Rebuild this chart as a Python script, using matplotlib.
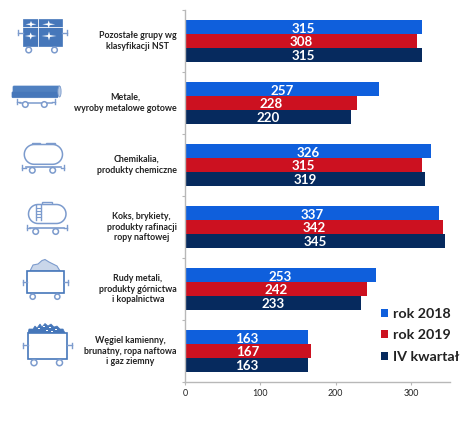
#!/usr/bin/env python3
"""Przewozy towarowe wg grup NST - wykres slupkowy z ikonami wagonow."""

import matplotlib
matplotlib.use("Agg")
import matplotlib.pyplot as plt
import numpy as np
from matplotlib.patches import Circle, Polygon, Rectangle, Ellipse, FancyBboxPatch

plt.rcParams["font.family"] = ["Lato", "DejaVu Sans"]

W, H = 474, 422

categories = [
    "Pozostałe grupy wg\nklasyfikacji NST",
    "Metale,\nwyroby metalowe gotowe",
    "Chemikalia,\nprodukty chemiczne",
    "Koks, brykiety,\nprodukty rafinacji\nropy naftowej",
    "Rudy metali,\nprodukty górnictwa\ni kopalnictwa",
    "Węgiel kamienny,\nbrunatny, ropa naftowa\ni gaz ziemny",
]
rok_2018 = [315, 257, 326, 337, 253, 163]
rok_2019 = [308, 228, 315, 342, 242, 167]
iv_kwartal = [315, 220, 319, 345, 233, 163]
series_labels = ["rok 2018", "rok 2019", "IV kwartał"]
x_ticks = [0, 100, 200, 300]

BLUE = "#0f5fdc"
RED = "#cc1120"
NAVY = "#062a5e"
ICON = "#7c9bcd"
ICON_DARK = "#4677ba"
ICON_FILL = "#c9d6ea"


def wheels(ax, xs, y, r=3.0):
    for x in xs:
        ax.add_patch(Circle((x, y), r, fc="white", ec=ICON, lw=1.1, zorder=3))


def buffers(ax, x0, x1, y, w=3.5):
    ax.plot([x0 - w, x0], [y, y], color=ICON, lw=1.0)
    ax.plot([x1, x1 + w], [y, y], color=ICON, lw=1.0)
    for x in (x0 - w, x1 + w):
        ax.plot([x, x], [y - 2.5, y + 2.5], color=ICON, lw=1.0)


def star(ax, x, y, s):
    pts = [(x - s, y), (x - 1, y - 0.9), (x, y - s * 0.6), (x + 1, y - 0.9),
           (x + s, y), (x + 1, y + 0.9), (x, y + s * 0.6), (x - 1, y + 0.9)]
    ax.add_patch(Polygon(pts, fc="white", ec="none"))


def tank(ax, x0, x1, y0, y1):
    # zbiornik z polokraglymi koncami
    r = (y1 - y0) / 2
    t = np.linspace(-np.pi / 2, np.pi / 2, 30)
    right = np.c_[x1 - r + r * np.cos(t), (y0 + y1) / 2 + r * np.sin(t)]
    left = np.c_[x0 + r - r * np.cos(t[::-1]), (y0 + y1) / 2 + r * np.sin(t[::-1])]
    ax.add_patch(Polygon(np.vstack([right, left]), fc="white", ec=ICON, lw=1.1))


def draw_icons(ax):
    # kontenery
    ax.add_patch(Rectangle((23, 19), 39, 26.5, fc=ICON_DARK, ec=ICON_DARK, lw=0.5))
    ax.plot([37.8, 37.8], [19, 45.5], color="white", lw=0.6)
    ax.plot([23, 62], [27.3, 27.3], color="white", lw=0.6)
    for x, y, s in [(31, 24.3, 5.5), (48.7, 24.3, 6.5), (30.7, 36, 6), (49, 36, 7.5)]:
        star(ax, x, y, s)
    buffers(ax, 23, 62, 32.7, 5)
    wheels(ax, [28.7, 54.5], 50, 2.8)

    # rury / metale
    ax.add_patch(FancyBboxPatch((14, 87), 45, 3.8, boxstyle="round,pad=1", fc="#4f80c0", ec="#4f80c0", lw=0.5))
    ax.add_patch(FancyBboxPatch((13, 92.8), 44, 3.9, boxstyle="round,pad=1", fc=ICON_DARK, ec=ICON_DARK, lw=0.5))
    ax.add_patch(Ellipse((59.5, 91.5), 3.2, 11, fc="#b9cbe4", ec=ICON, lw=0.6))
    ax.plot([20, 52], [103, 103], color=ICON, lw=1.1)
    buffers(ax, 20, 52, 101.5, 3.3)
    wheels(ax, [25.3, 44.3], 104.5, 2.8)

    # cysterna
    ax.add_patch(Rectangle((32.3, 142.5), 7.5, 2.5, fc="white", ec=ICON, lw=1))
    ax.add_patch(Rectangle((46, 142.5), 9, 2.5, fc="white", ec=ICON, lw=1))
    tank(ax, 24.3, 62.5, 144.5, 164.3)
    ax.plot([26, 61], [167.3, 167.3], color=ICON, lw=1.2)
    buffers(ax, 26, 61, 167.5, 3.5)
    wheels(ax, [32.3, 52.7], 170.3, 2.8)

    # cysterna z drabinka
    ax.add_patch(Rectangle((42, 201.5), 10, 3, fc="white", ec=ICON, lw=1))
    tank(ax, 28.5, 66, 204.5, 223.5)
    ax.plot([36.3, 36.3], [205, 220], color=ICON, lw=1)
    ax.plot([40.7, 40.7], [205, 220], color=ICON, lw=1)
    for y in (208, 211, 214, 217):
        ax.plot([36.3, 40.7], [y, y], color=ICON, lw=0.8)
    ax.plot([30, 64], [227.5, 227.5], color=ICON, lw=1.2)
    buffers(ax, 30, 64.5, 227.7, 3)
    wheels(ax, [35.7, 55.7], 231.5, 2.8)

    # ruda
    ore = [(30, 271), (33, 265), (38, 264), (42, 260.5), (45, 259.5), (49, 262), (53, 264), (57, 266), (60, 271)]
    ax.add_patch(Polygon(ore, fc=ICON_FILL, ec=ICON, lw=0.8))
    ax.add_patch(Rectangle((27.5, 271), 37, 21.5, fc="white", ec=ICON_DARK, lw=1.2))
    buffers(ax, 27.5, 64.5, 282, 4)
    wheels(ax, [32.7, 57.3], 296.7, 2.6)

    # wegiel
    coal = [(28, 333), (29, 329), (33, 329), (35, 326), (37, 328), (40, 324), (42, 327), (45, 323.5), (48, 326),
            (51, 324), (54, 327), (57, 326), (60, 329), (63, 329), (65, 333)]
    ax.add_patch(Polygon(coal, fc=ICON_DARK, ec=ICON_DARK, lw=0.5))
    for x, y in [(38, 328), (43, 326), (49, 327), (55, 329), (46, 330), (51, 330.5)]:
        ax.add_patch(Rectangle((x, y), 1.8, 1.3, fc="white", ec="none"))
    ax.add_patch(Rectangle((27.7, 333), 39.6, 26, fc="white", ec=ICON_DARK, lw=1.2))
    buffers(ax, 27.7, 67.3, 345, 4.4)
    wheels(ax, [34, 59.5], 362.7, 3.0)


fig = plt.figure(figsize=(W / 100, H / 100), dpi=100, facecolor="white")

# os wykresu: x 185-449 px, y 10-382 px
ax = fig.add_axes([185 / W, 1 - 382 / H, (449.5 - 185) / W, (382 - 10) / H])

bar_h = 13.8 / 62
offsets = [-bar_h, 0, bar_h]
colors = [BLUE, RED, NAVY]
for values, off, color, label in zip([rok_2018, rok_2019, iv_kwartal], offsets, colors, series_labels):
    pos = [i + off for i in range(len(categories))]
    ax.barh(pos, values, height=bar_h, color=color, label=label)
    for p, v in zip(pos, values):
        ax.annotate(str(v), xy=(v / 2, p), xytext=(0, -0.3), textcoords="offset points",
                    ha="center", va="center_baseline", color="white", fontsize=9.6, fontweight="bold")

ax.set_ylim(5.5, -0.5)
ax.set_xlim(0, 351)
ax.set_xticks(x_ticks)
ax.set_yticks([i - 0.5 for i in range(7)])
ax.set_yticklabels([])
ax.tick_params(axis="x", labelsize=6.4, length=2, color="#b8b8b8", labelcolor="#222222", pad=3)
ax.tick_params(axis="y", length=2, color="#b8b8b8")
for side in ("top", "right"):
    ax.spines[side].set_visible(False)
for side in ("left", "bottom"):
    ax.spines[side].set_color("#b8b8b8")
    ax.spines[side].set_linewidth(1.0)

# opisy kategorii
for i, name in enumerate(categories):
    ax.annotate(name, xy=(0, i), xytext=(-6, 0), textcoords="offset points",
                ha="right", va="center", multialignment="center", fontsize=6.4,
                fontweight="bold", color="#222222", linespacing=1.28, annotation_clip=False)

# legenda
handles, labels = ax.get_legend_handles_labels()
ax.legend(handles, labels, loc="lower left", bbox_to_anchor=(380.5 / W, 1 - 363 / H), bbox_transform=fig.transFigure,
          frameon=False, handlelength=0.51, handleheight=0.51, handletextpad=0.34,
          labelspacing=0.67, borderpad=0, borderaxespad=0, labelcolor="#222222",
          prop={"size": 10.3, "weight": "bold"})

# ikony wagonow rysowane w pikselach obrazka
icons = fig.add_axes([0, 0, 1, 1], facecolor="none")
icons.set_xlim(0, W)
icons.set_ylim(H, 0)
icons.axis("off")
draw_icons(icons)

fig.savefig("out.png", dpi=100)
plt.close(fig)
